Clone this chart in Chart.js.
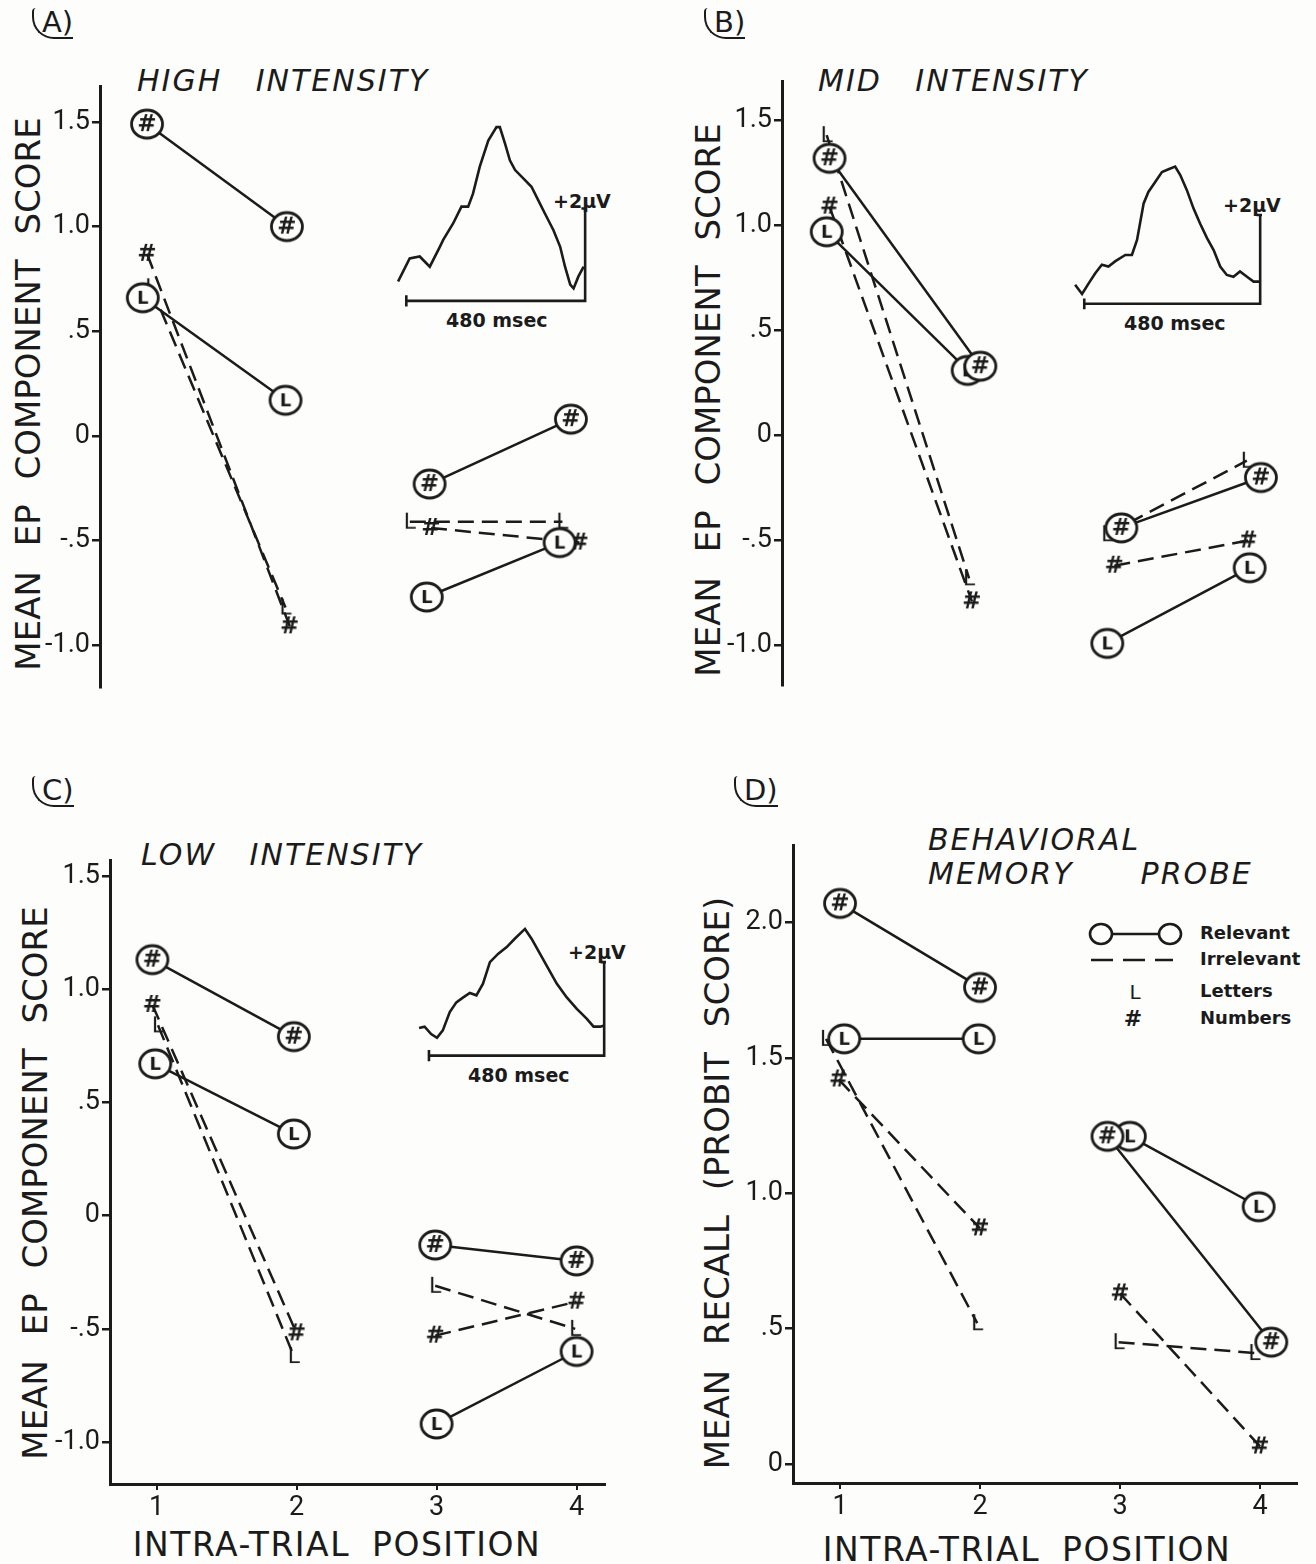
<!DOCTYPE html>
<html>
<head>
<meta charset="utf-8">
<script src="https://cdn.jsdelivr.net/npm/chart.js@4.4.1/dist/chart.umd.min.js"></script>
<style>
  body { margin: 0; width: 1316px; height: 1564px; position: relative; overflow: hidden; background: #fdfdfc; color: #1b1b1b; font-family: "DejaVu Sans", sans-serif; }
  canvas { position: absolute; }
  .t { position: absolute; white-space: pre; line-height: 1; }
  .ttl { font-style: italic; font-size: 30px; letter-spacing: 2px; word-spacing: 22px; }
  .ytl { width: 640px; height: 40px; line-height: 40px; text-align: center; font-size: 34px; word-spacing: 14px; transform: rotate(-90deg); }
  .xtl { width: 520px; height: 40px; line-height: 40px; text-align: center; font-size: 33px; letter-spacing: 1.5px; word-spacing: 10px; }
  .pl { font-size: 29px; padding-left: 8px; border-left: 2px solid #1b1b1b; border-bottom: 2px solid #1b1b1b; border-bottom-left-radius: 22px; border-top-left-radius: 4px; }
  .cal { font-weight: bold; font-size: 19px; }
  .lg { font-weight: bold; font-size: 18px; }
</style>
</head>
<body>
<div class="t pl" style="left:32px;top:8px">A)</div>
<div class="t pl" style="left:704px;top:8px">B)</div>
<div class="t pl" style="left:32px;top:776px">C)</div>
<div class="t pl" style="left:734px;top:776px">D)</div>

<div class="t ttl" style="left:137px;top:66px">HIGH INTENSITY</div>
<div class="t ttl" style="left:818px;top:66px">MID INTENSITY</div>
<div class="t ttl" style="left:141px;top:840px">LOW INTENSITY</div>
<div class="t ttl" style="left:928px;top:825px">BEHAVIORAL</div>
<div class="t ttl" style="left:928px;top:859px">MEMORY  PROBE</div>

<div class="t ytl" style="left:-292px;top:374px">MEAN EP COMPONENT SCORE</div>
<div class="t ytl" style="left:388px;top:380px">MEAN EP COMPONENT SCORE</div>
<div class="t ytl" style="left:-285px;top:1163px">MEAN EP COMPONENT SCORE</div>
<div class="t ytl" style="left:397px;top:1163px">MEAN RECALL (PROBIT SCORE)</div>
<div class="t xtl" style="left:77px;top:1525px">INTRA-TRIAL POSITION</div>
<div class="t xtl" style="left:767px;top:1530px">INTRA-TRIAL POSITION</div>

<div class="t cal" style="left:553px;top:192px">+2μV</div>
<div class="t cal" style="left:1223px;top:196px">+2μV</div>
<div class="t cal" style="left:568px;top:943px">+2μV</div>
<div class="t cal" style="left:446px;top:311px">480 msec</div>
<div class="t cal" style="left:1124px;top:314px">480 msec</div>
<div class="t cal" style="left:468px;top:1066px">480 msec</div>

<svg style="position:absolute;left:1085px;top:915px" width="110" height="120">
  <line x1="27" y1="19" x2="74" y2="19" stroke="#1b1b1b" stroke-width="2.6"/>
  <ellipse cx="16" cy="19" rx="11" ry="10" fill="none" stroke="#1b1b1b" stroke-width="2.6"/>
  <ellipse cx="85" cy="19" rx="11" ry="10" fill="none" stroke="#1b1b1b" stroke-width="2.6"/>
  <line x1="6" y1="45" x2="88" y2="45" stroke="#1b1b1b" stroke-width="2.6" stroke-dasharray="22 10"/>
  <text x="50" y="84" font-size="20" text-anchor="middle" fill="#1b1b1b" font-family="DejaVu Sans">L</text>
  <text x="48" y="111" font-size="22" font-weight="bold" text-anchor="middle" fill="#1b1b1b" font-family="DejaVu Sans">#</text>
</svg>
<div class="t lg" style="left:1200px;top:924px">Relevant</div>
<div class="t lg" style="left:1200px;top:950px">Irrelevant</div>
<div class="t lg" style="left:1200px;top:982px">Letters</div>
<div class="t lg" style="left:1200px;top:1009px">Numbers</div>

<canvas id="chartA" width="600" height="666" style="left:40px;top:68px"></canvas>
<canvas id="chartB" width="588" height="669" style="left:722px;top:63px"></canvas>
<canvas id="chartC" width="556" height="689" style="left:50px;top:842px"></canvas>
<canvas id="chartD" width="565" height="703" style="left:733px;top:827px"></canvas>
<canvas id="waveA" width="190" height="208" style="left:397px;top:116px"></canvas>
<canvas id="waveB" width="188" height="182" style="left:1074px;top:144px"></canvas>
<canvas id="waveC" width="188" height="173" style="left:418px;top:906px"></canvas>

<script>
// axis ticks
const epTicks = [-1.0, -0.5, 0, 0.5, 1.0, 1.5];
const epTickLabels = ['-1.0', '-.5', '0', '.5', '1.0', '1.5'];
const recallTicks = [0, 0.5, 1.0, 1.5, 2.0];
const recallTickLabels = ['0', '.5', '1.0', '1.5', '2.0'];
const positions = [1, 2, 3, 4];
const positionLabels = ['1', '2', '3', '4'];

// [intra-trial position, score] (markers sit slightly off the
// nominal position where they overlap in the original)
const highRelNum = [[1.0, 1.49], [1.99, 1.00], [3.0, -0.23], [4.0, 0.08]];
const highRelLet = [[0.97, 0.66], [1.98, 0.17], [2.98, -0.77], [3.92, -0.51]];
const highIrrNum = [[1.0, 0.87], [2.01, -0.91], [3.01, -0.44], [4.06, -0.51]];
const highIrrLet = [[1.03, 0.71], [1.98, -0.82], [2.86, -0.41], [3.94, -0.41]];

const midRelNum = [[1.0, 1.32], [2.07, 0.33], [3.07, -0.44], [4.06, -0.20]];
const midRelLet = [[0.98, 0.97], [1.98, 0.31], [2.97, -0.99], [3.98, -0.63]];
const midIrrNum = [[1.0, 1.09], [2.01, -0.79], [3.02, -0.62], [3.97, -0.50]];
const midIrrLet = [[0.98, 1.43], [1.99, -0.68], [2.97, -0.47], [3.96, -0.12]];

const lowRelNum = [[0.97, 1.13], [1.98, 0.79], [2.99, -0.13], [4.0, -0.20]];
const lowRelLet = [[0.99, 0.67], [1.98, 0.36], [3.0, -0.92], [4.0, -0.60]];
const lowIrrNum = [[0.97, 0.93], [2.0, -0.52], [2.99, -0.53], [4.0, -0.38]];
const lowIrrLet = [[1.01, 0.84], [1.98, -0.62], [2.99, -0.31], [3.99, -0.50]];

const recRelNum = [[1.0, 2.07], [2.0, 1.76], [2.91, 1.21], [4.08, 0.45]];
const recRelLet = [[1.03, 1.57], [1.99, 1.57], [3.07, 1.21], [3.99, 0.95]];
const recIrrNum = [[0.99, 1.42], [2.0, 0.87], [3.0, 0.63], [4.0, 0.065]];
const recIrrLet = [[0.90, 1.57], [1.98, 0.52], [2.99, 0.45], [3.96, 0.41]];

// averaged EP waveforms [msec, µV] and the 480 msec / +2 µV calibration
const highWave = [[-22, 0.42], [9, 0.92], [36, 0.96], [63, 0.74], [90, 1.17], [99, 1.32], [126, 1.68],
  [148, 2.04], [166, 2.04], [179, 2.32], [197, 2.90], [220, 3.47], [242, 3.76], [251, 3.76],
  [265, 3.40], [278, 3.04], [292, 2.83], [314, 2.65], [336, 2.47], [354, 2.18], [372, 1.89],
  [395, 1.53], [413, 1.17], [426, 0.74], [440, 0.35], [449, 0.27], [462, 0.53], [476, 0.74]];
const midWave = [[-25, 0.43], [-6, 0.22], [12, 0.46], [30, 0.69], [48, 0.88], [66, 0.84], [85, 0.96],
  [112, 1.10], [130, 1.10], [144, 1.44], [162, 2.26], [175, 2.52], [194, 2.75], [212, 2.97],
  [230, 3.03], [248, 3.09], [262, 2.90], [280, 2.56], [298, 2.15], [316, 1.81], [335, 1.48],
  [353, 1.21], [371, 0.84], [389, 0.65], [407, 0.61], [425, 0.73], [444, 0.61], [462, 0.50], [478, 0.50]];
const lowWave = [[-27, 0.59], [-12, 0.62], [6, 0.46], [22, 0.38], [38, 0.54], [57, 0.93], [75, 1.14],
  [93, 1.24], [112, 1.34], [130, 1.29], [148, 1.54], [167, 2.00], [190, 2.18], [213, 2.32],
  [235, 2.50], [263, 2.71], [281, 2.50], [304, 2.18], [327, 1.86], [350, 1.54], [377, 1.25],
  [405, 1.00], [432, 0.79], [451, 0.62], [469, 0.62], [478, 0.64]];
const calBar = [[0, 0.12], [0, -0.12], [0, 0], [480, 0], [480, 2], [470, 2], [490, 2]];

const ink = '#1b1b1b';
const paper = '#fdfdfc';
const tickFont = { family: 'Roboto, "DejaVu Sans", sans-serif', size: 27 };

function marker(ch, circled) {
  const c = document.createElement('canvas');
  c.width = circled ? 38 : 24;
  c.height = circled ? 34 : 28;
  const g = c.getContext('2d');
  if (circled) {
    g.beginPath();
    g.ellipse(19, 17, 15.5, 14, 0, 0, Math.PI * 2);
    g.fillStyle = paper;
    g.fill();
    g.lineWidth = 2.8;
    g.strokeStyle = ink;
    g.stroke();
  }
  g.fillStyle = ink;
  g.textAlign = 'center';
  g.textBaseline = 'middle';
  g.font = ch === '#' ? 'bold 23px "DejaVu Sans"' : (circled ? 'bold 18px "DejaVu Sans"' : '22px "DejaVu Sans"');
  g.fillText(ch, c.width / 2, c.height / 2 + 1);
  return c;
}
const circledHash = marker('#', true);
const circledL = marker('L', true);
const plainHash = marker('#', false);
const plainL = marker('L', false);

function series(points, dashed, style) {
  return {
    data: points.map(p => ({ x: p[0], y: p[1] })),
    borderColor: ink,
    borderWidth: 2.5,
    borderDash: dashed ? [16, 8] : [],
    pointStyle: style,
    pointRadius: 12,
    tension: 0,
    fill: false,
    clip: false,
    // positions 1-2 and 3-4 are separate pairs: no segment from 2 to 3
    segment: { borderColor: ctx => ctx.p0DataIndex === 1 ? 'rgba(0,0,0,0)' : undefined }
  };
}

function panelChart(id, sets, yr, xr, ticks, tickLabels, showX) {
  new Chart(document.getElementById(id), {
    type: 'line',
    data: { datasets: sets },
    options: {
      responsive: false,
      animation: false,
      devicePixelRatio: 1,
      events: [],
      layout: { padding: 0, autoPadding: false },
      plugins: { legend: { display: false }, tooltip: { enabled: false } },
      scales: {
        x: {
          type: 'linear',
          display: showX,
          min: xr[0], max: xr[1],
          afterFit: s => { s.height = 47; },
          afterBuildTicks: s => { s.ticks = positions.map(v => ({ value: v })); },
          ticks: { color: ink, font: tickFont, padding: 2, callback: v => positionLabels[positions.indexOf(v)] },
          grid: { drawOnChartArea: false, color: ink, lineWidth: 2, tickLength: 6 },
          border: { color: ink, width: 3 }
        },
        y: {
          type: 'linear',
          min: yr[0], max: yr[1],
          afterFit: s => { s.width = 60; },
          afterBuildTicks: s => { s.ticks = ticks.map(v => ({ value: v })); },
          ticks: { color: ink, font: tickFont, padding: 2, callback: v => tickLabels[ticks.indexOf(v)] },
          grid: { drawOnChartArea: false, color: ink, lineWidth: 2.5, tickLength: 8 },
          border: { color: ink, width: 3 }
        }
      }
    }
  });
}

function waveChart(id, wave, xr, yr) {
  const line = pts => ({ data: pts.map(p => ({ x: p[0], y: p[1] })), showLine: true, borderColor: ink,
    borderWidth: 2.6, pointRadius: 0, tension: 0, clip: false });
  new Chart(document.getElementById(id), {
    type: 'scatter',
    data: { datasets: [line(wave), line(calBar)] },
    options: {
      responsive: false, animation: false, devicePixelRatio: 1, events: [],
      layout: { padding: 0, autoPadding: false },
      plugins: { legend: { display: false }, tooltip: { enabled: false } },
      scales: { x: { display: false, min: xr[0], max: xr[1] }, y: { display: false, min: yr[0], max: yr[1] } }
    }
  });
}

panelChart('chartA', [
  series(highRelNum, false, circledHash), series(highRelLet, false, circledL),
  series(highIrrNum, true, plainHash), series(highIrrLet, true, plainL)
], [-1.200, 1.671], [0.667, 4.489], epTicks, epTickLabels, false);

panelChart('chartB', [
  series(midRelNum, false, circledHash), series(midRelLet, false, circledL),
  series(midIrrNum, true, plainHash), series(midIrrLet, true, plainL)
], [-1.188, 1.687], [0.663, 4.408], epTicks, epTickLabels, false);

panelChart('chartC', [
  series(lowRelNum, false, circledHash), series(lowRelLet, false, circledL),
  series(lowIrrNum, true, plainHash), series(lowIrrLet, true, plainL)
], [-1.185, 1.569], [0.667, 4.21], epTicks, epTickLabels, true);

panelChart('chartD', [
  series(recRelNum, false, circledHash), series(recRelLet, false, circledL),
  series(recIrrNum, true, plainHash), series(recIrrLet, true, plainL)
], [-0.070, 2.285], [0.664, 4.271], recallTicks, recallTickLabels, true);

waveChart('waveA', highWave, [-25, 485], [-0.5, 4.0]);
waveChart('waveB', midWave, [-28, 485], [-0.5, 3.6]);
waveChart('waveC', lowWave, [-30, 485], [-0.5, 3.2]);
</script>
</body>
</html>
